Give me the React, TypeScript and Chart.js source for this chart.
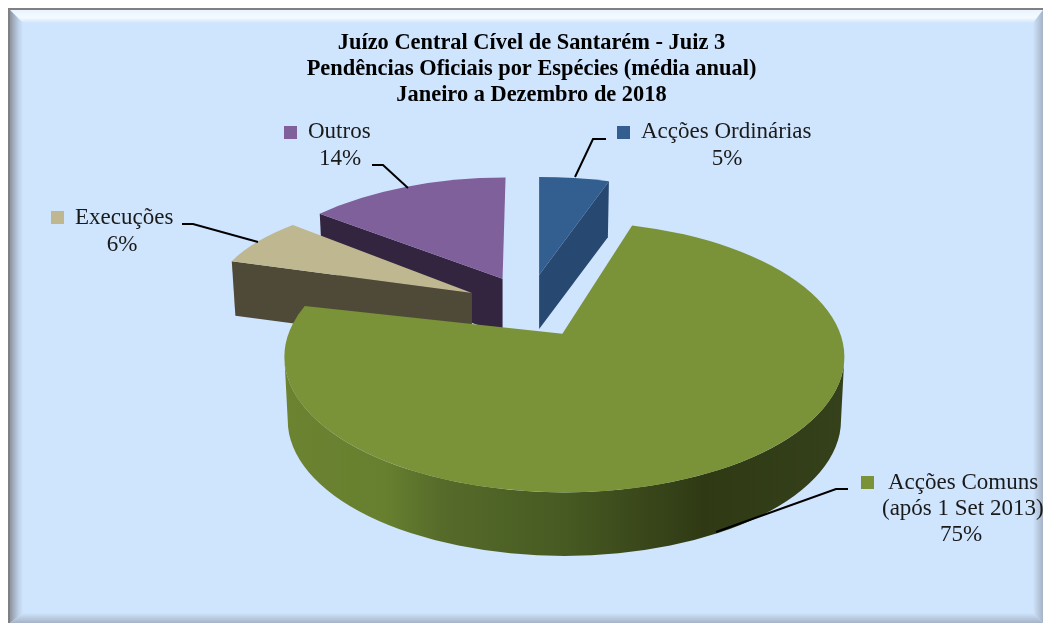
import React, { useEffect, useRef } from "react";
import { Chart, registerables } from "chart.js";

Chart.register(...registerables);

const titleLines = [
  "Juízo Central Cível de Santarém - Juiz 3",
  "Pendências Oficiais por Espécies (média anual)",
  "Janeiro a Dezembro de 2018",
];
const categories = ["Acções Ordinárias", "Acções Comuns (após 1 Set 2013)", "Execuções", "Outros"];
const values = [5, 75, 6, 14];
const labelLines = [["Acções Ordinárias"], ["Acções Comuns", "(após 1 Set 2013)"], ["Execuções"], ["Outros"]];

const topColors = ["#335e90", "#7a9338", "#bfb78f", "#7f609b"];
const sideColors = ["#274870", "#3a4a1c", "#4f4a38", "#33253f"];

const W = 1043;
const H = 623;
const BG = "#cfe4fd";
const SERIF = "'Liberation Serif', serif";
const LABEL_FONT = `23px ${SERIF}`;

// styling of the pseudo-3D projection
const SQUASH_APEX = 0.46;
const squashRim = [0.484, 0.484, 0.4, 0.484];
const WARP = (6.8 * Math.PI) / 180;
const radiusScale = [1.03, 1, 0.925, 0.96];
const apexShift = [[-3, -1], [0, -1], [0, 1], [0, 0]];
const rimShiftX = [0, 2, 0, 3];
const rimDrop = [41.5, 23, 7, 29];
const depths = [54, 63.5, 54, 55];
const drawOrder = [0, 3, 2, 1];
const wallStops: [number, string][] = [
  [0, "#6c8331"],
  [0.18, "#66802f"],
  [0.28, "#566b2a"],
  [0.5, "#465a22"],
  [0.64, "#3a471a"],
  [0.75, "#2f3a14"],
  [1, "#35411a"],
];
// label layout: swatch x/y, text x, baseline, percent centre
const labelLayout = [
  { sx: 617, sy: 126, tx: [641], by: 138, px: 727, py: 165 },
  { sx: 861, sy: 476, tx: [888, 882], by: 489, px: 961, py: 541 },
  { sx: 51, sy: 211, tx: [75], by: 224, px: 122, py: 251 },
  { sx: 284, sy: 126, tx: [308], by: 138, px: 340, py: 165 },
];
const leaderLayout = [
  [[575, 177], [593, 139], [606, 139]],
  [[716, 532], [836, 489], [848, 489]],
  [[258, 242], [193, 224], [182, 224]],
  [[408, 188], [383, 165], [372, 165]],
];

const framePlugin = {
  id: "frame",
  beforeDraw(chart: any) {
    const c = chart.ctx;
    c.save();
    c.fillStyle = "#ffffff";
    c.fillRect(0, 0, W, H);
    c.fillStyle = "#808080";
    c.fillRect(8, 8, W - 8, H - 8);
    c.fillStyle = BG;
    c.fillRect(10, 10, W - 10, H - 10);
    const band = (pts: number[][], g: any) => {
      c.beginPath();
      pts.forEach((p, i) => (i ? c.lineTo(p[0], p[1]) : c.moveTo(p[0], p[1])));
      c.closePath();
      c.fillStyle = g;
      c.fill();
    };
    let g = c.createLinearGradient(0, 10, 0, 23);
    g.addColorStop(0, "#eaf4ff");
    g.addColorStop(0.6, "#f4faff");
    g.addColorStop(1, BG);
    band([[10, 10], [W, 10], [1033, 23], [23, 23]], g);
    g = c.createLinearGradient(10, 0, 23, 0);
    g.addColorStop(0, "#8f949e");
    g.addColorStop(0.65, "#bcd0e8");
    g.addColorStop(1, BG);
    band([[10, 10], [23, 23], [23, 613], [10, H]], g);
    g = c.createLinearGradient(0, 613, 0, H);
    g.addColorStop(0, BG);
    g.addColorStop(1, "#a6b3c6");
    band([[10, H], [23, 613], [1033, 613], [W, H]], g);
    g = c.createLinearGradient(1033, 0, W, 0);
    g.addColorStop(0, BG);
    g.addColorStop(1, "#a6b3c6");
    band([[W, 10], [1033, 23], [1033, 613], [W, H]], g);
    c.restore();
  },
};

const warp = (phi: number) => phi - WARP * Math.sin(2 * phi);

const pie3dPlugin = {
  id: "pie3d",
  beforeDatasetsDraw(chart: any) {
    const c = chart.ctx;
    const meta = chart.getDatasetMeta(0);
    drawOrder.forEach((i) => {
      const el = meta.data[i];
      const { x, y, startAngle, endAngle, outerRadius } = el.getProps(
        ["x", "y", "startAngle", "endAngle", "outerRadius"],
        true
      );
      const phi0 = startAngle + Math.PI / 2;
      const phi1 = endAngle + Math.PI / 2;
      const mid = (phi0 + phi1) / 2;
      const offset = el.options.offset || 0;
      const ax = x + apexShift[i][0] + offset * Math.sin(mid);
      const ay = y + apexShift[i][1] - offset * SQUASH_APEX * Math.cos(mid);
      const r = outerRadius * radiusScale[i];
      const ry = r * squashRim[i];
      const cx = ax + rimShiftX[i];
      const cy = ay + rimDrop[i];
      const d = depths[i];
      const t0 = warp(phi0);
      const t1 = warp(phi1);
      const rim = (t: number, s = 1, dy = 0) => [cx + r * s * Math.sin(t), cy + dy - ry * s * Math.cos(t)];

      // cut faces: only those turned towards the viewer
      c.fillStyle = sideColors[i];
      [t0, t1].forEach((t, side) => {
        const p = rim(t);
        const visible = side === 0 ? p[0] < ax - 10 : p[0] > ax + 10;
        if (!visible) return;
        const q = rim(t, 0.985, d);
        c.beginPath();
        c.moveTo(ax, ay);
        c.lineTo(p[0], p[1]);
        c.lineTo(q[0], q[1]);
        c.lineTo(ax, ay + d);
        c.closePath();
        c.fill();
      });

      // outer wall on the part of the rim that faces the viewer
      const a0 = Math.max(t0 - Math.PI / 2, 0);
      const a1 = Math.min(t1 - Math.PI / 2, Math.PI);
      if (a1 > a0) {
        const g = c.createLinearGradient(cx - r, 0, cx + r, 0);
        wallStops.forEach(([s, col]) => g.addColorStop(s, col));
        c.fillStyle = g;
        c.beginPath();
        c.ellipse(cx, cy, r, ry, 0, a0, a1);
        c.ellipse(cx, cy + d, r * 0.988, ry, 0, a1, a0, true);
        c.closePath();
        c.fill();
      }

      // top
      c.fillStyle = el.options.backgroundColor;
      c.beginPath();
      c.moveTo(ax, ay);
      c.ellipse(cx, cy, r, ry, 0, t0 - Math.PI / 2, t1 - Math.PI / 2);
      c.closePath();
      c.fill();
    });
    return false;
  },
  afterDraw(chart: any) {
    const c = chart.ctx;
    c.save();
    c.strokeStyle = "#000000";
    c.lineWidth = 2;
    leaderLayout.forEach((pts) => {
      c.beginPath();
      pts.forEach((p, i) => (i ? c.lineTo(p[0], p[1]) : c.moveTo(p[0], p[1])));
      c.stroke();
    });
    c.font = LABEL_FONT;
    c.textBaseline = "alphabetic";
    labelLayout.forEach((l, i) => {
      c.fillStyle = topColors[i];
      c.fillRect(l.sx, l.sy, 13, 13);
      c.fillStyle = "#1a1a1a";
      c.textAlign = "left";
      labelLines[i].forEach((line, j) => c.fillText(line, l.tx[j], l.by + j * 26));
      c.textAlign = "center";
      c.fillText(`${values[i]}%`, l.px, l.py);
    });
    c.restore();
  },
};

export default function App() {
  const ref = useRef<HTMLCanvasElement>(null);
  useEffect(() => {
    const chart = new Chart(ref.current as HTMLCanvasElement, {
      type: "pie",
      data: {
        labels: categories,
        datasets: [
          {
            data: values,
            backgroundColor: topColors,
            borderWidth: 0,
            offset: 68,
            radius: 280,
          } as any,
        ],
      },
      options: {
        responsive: false,
        animation: false,
        devicePixelRatio: 1,
        layout: { padding: { left: 20, right: 0, top: 0, bottom: 119 } },
        plugins: {
          legend: { display: false },
          tooltip: { enabled: false },
          title: {
            display: true,
            text: titleLines,
            color: "#000000",
            font: { family: SERIF, size: 22.4, weight: "bold", lineHeight: 26 / 22.4 },
            padding: { top: 30, bottom: 2 },
          },
        },
      },
      plugins: [framePlugin, pie3dPlugin],
    } as any);
    return () => chart.destroy();
  }, []);
  return (
    <div style={{ position: "absolute", left: 0, top: 0, width: W, height: H }}>
      <canvas ref={ref} width={W} height={H} style={{ display: "block" }} />
    </div>
  );
}
